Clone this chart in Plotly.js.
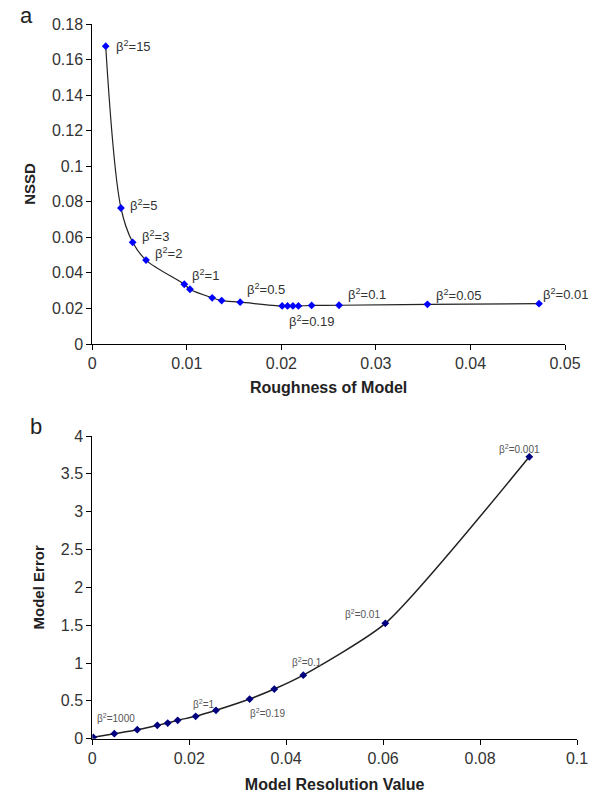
<!DOCTYPE html>
<html>
<head>
<meta charset="utf-8">
<script src="https://cdn.plot.ly/plotly-3.0.1.min.js"></script>
<style>html,body{margin:0;padding:0;background:#fff;}#chart{width:594px;height:794px;}</style>
</head>
<body>
<div id="chart"></div>
<script>
// Panel a: roughness of model vs NSSD
const roughness = [0.00142,0.00303,0.00427,0.00568,0.00973,0.01033,0.01268,0.01368,0.01564,0.02008,0.02065,0.02122,0.0218,0.0232,0.0261,0.03545,0.04725];
const nssd = [0.1675,0.0765,0.0572,0.0472,0.0336,0.0308,0.0260,0.0244,0.0235,0.0214,0.0214,0.0214,0.0214,0.0217,0.0218,0.0223,0.0227];
const labelsA = ["β<sup>2</sup>=15","β<sup>2</sup>=5","β<sup>2</sup>=3","β<sup>2</sup>=2","β<sup>2</sup>=1","β<sup>2</sup>=0.5","β<sup>2</sup>=0.19","β<sup>2</sup>=0.1","β<sup>2</sup>=0.05","β<sup>2</sup>=0.01"];
const labelIdxA = [0,1,2,3,4,8,9,14,15,16];

// Panel b: model resolution value vs model error
const resolution = [0.0002,0.00454,0.00928,0.01341,0.01556,0.01762,0.02133,0.02552,0.03247,0.03755,0.04353,0.06045,0.09016];
const modelError = [0.018,0.066,0.119,0.177,0.207,0.243,0.296,0.375,0.524,0.656,0.840,1.524,3.725];
const labelsB = ["β<sup>2</sup>=1000","β<sup>2</sup>=1","β<sup>2</sup>=0.19","β<sup>2</sup>=0.1","β<sup>2</sup>=0.01","β<sup>2</sup>=0.001"];
const labelIdxB = [0,6,8,10,11,12];

// label offsets in pixels (style, not data)
const offA = [[8,0],[7,3],[7,6],[7,7],[6,9],[5,13],[5,-15],[7,11],[7,9],[2,10]];
const offB = [[2,19],[-5,12],[-2,-14],[-13,13],[-42,9],[-32,8]];

const FONT = "Liberation Sans, Arial, sans-serif";

const traces = [
  {x: roughness, y: nssd, xaxis:'x', yaxis:'y', type:'scatter', mode:'lines+markers',
   line:{color:'#222', width:1.2, shape:'spline', smoothing:1},
   marker:{symbol:'diamond', size:6, color:'#0000ff'}, hoverinfo:'x+y'},
  {x: resolution, y: modelError, xaxis:'x2', yaxis:'y2', type:'scatter', mode:'lines+markers',
   line:{color:'#222', width:1.5, shape:'spline', smoothing:0.6},
   marker:{symbol:'diamond', size:6, color:'#00007f'}, hoverinfo:'x+y'}
];

const annotations = [];
labelIdxA.forEach((idx,i)=>{
  annotations.push({x: roughness[idx], y: nssd[idx], xref:'x', yref:'y', text: labelsA[i],
    showarrow:false, xanchor:'left', yanchor:'middle', xshift: offA[i][0], yshift: offA[i][1],
    font:{family:FONT, size:13, color:'#333'}});
});
labelIdxB.forEach((idx,i)=>{
  annotations.push({x: resolution[idx], y: modelError[idx], xref:'x2', yref:'y2', text: labelsB[i],
    showarrow:false, xanchor:'left', yanchor:'middle', xshift: offB[i][0], yshift: offB[i][1],
    font:{family:FONT, size:10, color:'#555'}});
});
annotations.push({x:18/594, y:1-15/794, xref:'paper', yref:'paper', text:'a', showarrow:false,
  xanchor:'left', yanchor:'middle', font:{family:FONT, size:22, color:'#222'}});
annotations.push({x:28/594, y:1-427/794, xref:'paper', yref:'paper', text:'b', showarrow:false,
  xanchor:'left', yanchor:'middle', font:{family:FONT, size:22, color:'#222'}});

const axisCommon = {showline:true, linecolor:'#000', linewidth:1, ticks:'outside', ticklen:5,
  tickcolor:'#000', showgrid:false, zeroline:false, tickfont:{family:FONT, size:16, color:'#333'}};

const layout = {
  width:594, height:794, margin:{l:0,r:0,t:0,b:0}, paper_bgcolor:'#fff', plot_bgcolor:'#fff',
  showlegend:false,
  xaxis: Object.assign({}, axisCommon, {domain:[92.3/594, 565/594], range:[0,0.05], dtick:0.01, anchor:'y',
    title:{text:'<b>Roughness of Model</b>', font:{family:FONT, size:16, color:'#222'}, standoff:10}}),
  yaxis: Object.assign({}, axisCommon, {domain:[1-344/794, 1-24/794], range:[0,0.18], dtick:0.02, anchor:'x',
    title:{text:'<b>NSSD</b>', font:{family:FONT, size:15, color:'#222'}, standoff:12}}),
  xaxis2: Object.assign({}, axisCommon, {domain:[92.3/594, 577/594], range:[0,0.1], dtick:0.02, anchor:'y2',
    title:{text:'<b>Model Resolution Value</b>', font:{family:FONT, size:16, color:'#222'}, standoff:12}}),
  yaxis2: Object.assign({}, axisCommon, {domain:[1-738.7/794, 1-436/794], range:[0,4], dtick:0.5, anchor:'x2',
    title:{text:'<b>Model Error</b>', font:{family:FONT, size:15, color:'#222'}, standoff:12}}),
  annotations: annotations
};

Plotly.newPlot('chart', traces, layout, {staticPlot:true, displayModeBar:false});
</script>
</body>
</html>
